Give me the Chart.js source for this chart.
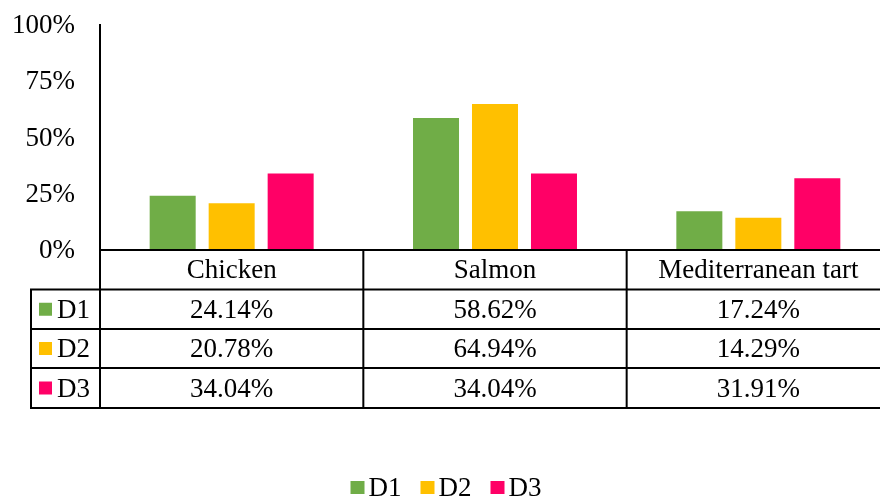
<!DOCTYPE html>
<html>
<head>
<meta charset="utf-8">
<script src="https://cdn.jsdelivr.net/npm/chart.js@4/dist/chart.umd.min.js"></script>
<style>
html,body{margin:0;padding:0;background:#fff;overflow:hidden;}
#wrap{width:880px;height:498px;overflow:hidden;position:relative;}
#c{position:absolute;left:0;top:0;}
</style>
</head>
<body>
<div id="wrap"><canvas id="c" width="890" height="498"></canvas></div>
<script>
const categories = ["Chicken", "Salmon", "Mediterranean tart"];
const seriesNames = ["D1", "D2", "D3"];
const d1 = [24.14, 58.62, 17.24];
const d2 = [20.78, 64.94, 14.29];
const d3 = [34.04, 34.04, 31.91];
const seriesColors = ["#70AD47", "#FFC000", "#FF0066"];
const yTicks = [0, 25, 50, 75, 100];

const FONT = '"Liberation Serif", "Times New Roman", serif';
const FS = 27;

const tablePlugin = {
  id: 'dataTable',
  afterDraw(chart) {
    const ctx = chart.ctx;
    const area = chart.chartArea;
    const x = chart.scales.x;
    const y = chart.scales.y;
    const n = categories.length;
    const top = area.bottom;
    const rowH = [39.5, 39.5, 39, 40];
    const rows = [top];
    rowH.forEach(h => rows.push(rows[rows.length - 1] + h));
    const colW = (area.right - area.left) / n;
    const legendLeft = 31;
    ctx.save();

    // y tick labels
    ctx.fillStyle = '#000';
    ctx.font = FS + 'px ' + FONT;
    ctx.textAlign = 'right';
    ctx.textBaseline = 'middle';
    yTicks.forEach(v => {
      ctx.fillText(v + '%', area.left - 25, y.getPixelForValue(v) + 1);
    });

    ctx.strokeStyle = '#000';
    ctx.lineWidth = 2;
    ctx.beginPath();
    ctx.moveTo(area.left - 1, rows[0]); ctx.lineTo(area.right, rows[0]);
    for (let r = 1; r < rows.length; r++) {
      ctx.moveTo(legendLeft - 1, rows[r]); ctx.lineTo(area.right, rows[r]);
    }
    ctx.moveTo(legendLeft, rows[1]); ctx.lineTo(legendLeft, rows[4]);
    for (let i = 0; i < n; i++) {
      const bx = area.left + i * colW;
      ctx.moveTo(bx, rows[0]); ctx.lineTo(bx, rows[4]);
    }
    ctx.stroke();

    ctx.textAlign = 'center';
    const allData = chart.data.datasets;
    for (let i = 0; i < n; i++) {
      const cx = x.getPixelForValue(i);
      ctx.fillText(categories[i], cx, (rows[0] + rows[1]) / 2 + 1);
      allData.forEach((ds, s) => {
        ctx.fillText(ds.data[i].toFixed(2) + '%', cx, (rows[s + 1] + rows[s + 2]) / 2 + 1.5);
      });
    }
    ctx.textAlign = 'left';
    allData.forEach((ds, s) => {
      const cy = (rows[s + 1] + rows[s + 2]) / 2;
      ctx.fillStyle = ds.backgroundColor;
      ctx.fillRect(39, cy - 6.5, 13, 13);
      ctx.fillStyle = '#000';
      ctx.fillText(ds.label, 57, cy + 1.5);
    });

    // bottom legend
    const boxW = 14, gap = 4, spacing = 19, legendCx = 446, legendCy = 488;
    const widths = allData.map(ds => ctx.measureText(ds.label).width);
    const total = widths.reduce((a, w) => a + boxW + gap + w, 0) + spacing * (allData.length - 1);
    let lx = legendCx - total / 2;
    allData.forEach((ds, s) => {
      ctx.fillStyle = ds.backgroundColor;
      ctx.fillRect(lx, legendCy - 7, boxW, 13);
      ctx.fillStyle = '#000';
      ctx.fillText(ds.label, lx + boxW + gap, legendCy + 1);
      lx += boxW + gap + widths[s] + spacing;
    });
    ctx.restore();
  }
};

const datasets = [d1, d2, d3].map((vals, i) => ({
  label: seriesNames[i],
  data: vals,
  backgroundColor: seriesColors[i],
  borderWidth: 0,
  categoryPercentage: 0.672,
  barPercentage: 0.78
}));

new Chart(document.getElementById('c'), {
  type: 'bar',
  data: { labels: categories, datasets },
  plugins: [tablePlugin],
  options: {
    responsive: false,
    animation: false,
    devicePixelRatio: 1,
    layout: { padding: { top: 25, left: 0, right: 0, bottom: 0 } },
    plugins: {
      tooltip: { enabled: false },
      legend: { display: false }
    },
    scales: {
      x: {
        grid: { display: false },
        border: { display: false },
        ticks: { display: false },
        afterFit(scale) { scale.height = 248; }
      },
      y: {
        min: 0, max: 100,
        afterBuildTicks(scale) { scale.ticks = yTicks.map(v => ({ value: v })); },
        grid: { display: false, drawTicks: false },
        border: { display: true, color: '#000', width: 2 },
        ticks: { display: false },
        afterFit(scale) { scale.width = 100; }
      }
    }
  }
});
</script>
</body>
</html>
